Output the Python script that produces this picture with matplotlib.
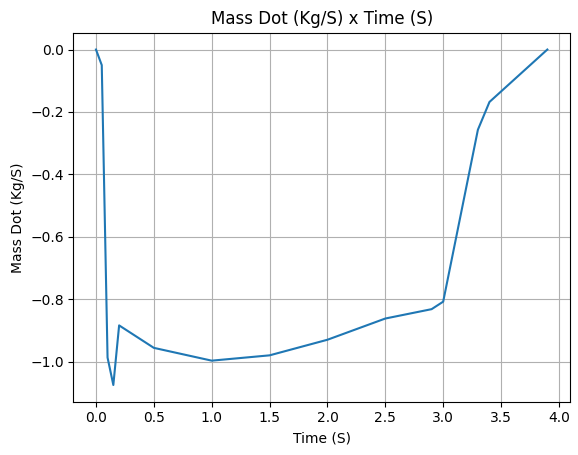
import matplotlib
matplotlib.use("Agg")
import matplotlib.pyplot as plt

time_s = [0.0, 0.05, 0.1, 0.15, 0.2, 0.5, 1.0, 1.5, 2.0, 2.5, 2.9, 3.0, 3.3, 3.4, 3.9]
mass_dot = [0.0, -0.05, -0.987, -1.075, -0.884, -0.956, -0.997, -0.98, -0.93, -0.862, -0.832, -0.808, -0.257, -0.168, 0.0]

fig = plt.figure(figsize=(5.78, 4.55), dpi=100)
ax = fig.add_axes([0.127, 0.117, 0.859, 0.811])
ax.plot(time_s, mass_dot)
ax.set_title("Mass Dot (Kg/S) x Time (S)")
ax.set_xlabel("Time (S)")
ax.set_ylabel("Mass Dot (Kg/S)")
ax.grid(True)
fig.savefig("out.png", dpi=100)
